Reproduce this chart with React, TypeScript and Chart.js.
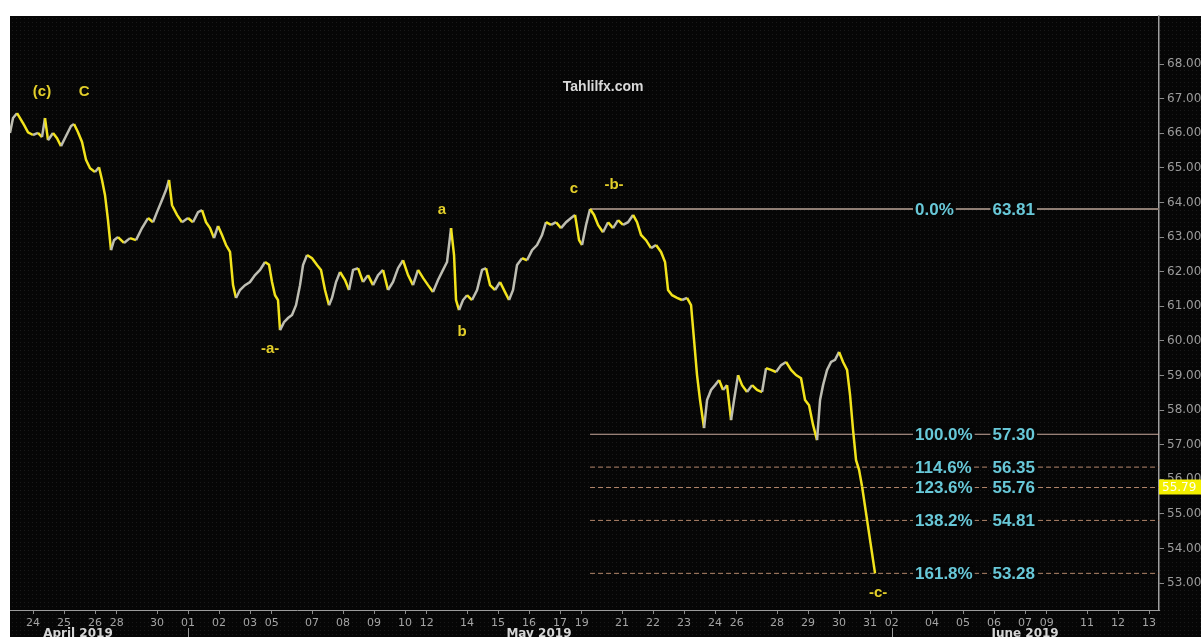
import React, { useEffect, useRef } from 'react';
import { Chart, registerables } from 'chart.js';

Chart.register(...registerables);

// ---- Data (x in trading-day units from the start of Wed 24 Apr 2019; weekends: Fri+Sun = 1 unit) ----
const priceDays = [
  -0.742, -0.645, -0.516, -0.419, -0.29, -0.161, 0.0, 0.161, 0.29, 0.387, 0.484, 0.645, 0.774, 0.903,
  1.065, 1.226, 1.323, 1.452, 1.581, 1.71, 1.839, 2.0, 2.129, 2.226, 2.323, 2.419, 2.516, 2.613, 2.742,
  2.935, 3.129, 3.323, 3.516, 3.71, 3.871, 4.0, 4.161, 4.29, 4.387, 4.484, 4.645, 4.806, 5.0, 5.161,
  5.323, 5.452, 5.581, 5.71, 5.839, 5.968, 6.097, 6.226, 6.355, 6.452, 6.548, 6.677, 6.839, 7.0, 7.161,
  7.323, 7.484, 7.613, 7.71, 7.806, 7.903, 7.968, 8.097, 8.226, 8.355, 8.484, 8.613, 8.71, 8.839, 9.0,
  9.161, 9.29, 9.419, 9.548, 9.645, 9.774, 9.903, 10.065, 10.194, 10.323, 10.484, 10.645, 10.806, 10.968,
  11.129, 11.29, 11.452, 11.613, 11.774, 11.935, 12.097, 12.258, 12.419, 12.581, 12.742, 12.903, 13.065,
  13.226, 13.355, 13.484, 13.581, 13.645, 13.742, 13.871, 14.0, 14.161, 14.323, 14.484, 14.613, 14.742,
  14.903, 15.065, 15.226, 15.355, 15.484, 15.613, 15.774, 15.935, 16.097, 16.258, 16.419, 16.548, 16.71,
  16.871, 17.032, 17.194, 17.355, 17.484, 17.613, 17.71, 17.839, 17.968, 18.097, 18.226, 18.387, 18.548,
  18.71, 18.871, 19.032, 19.194, 19.355, 19.484, 19.613, 19.774, 19.935, 20.097, 20.258, 20.387, 20.484,
  20.613, 20.774, 20.935, 21.097, 21.226, 21.323, 21.419, 21.516, 21.645, 21.742, 21.871, 22.0, 22.129,
  22.258, 22.387, 22.516, 22.613, 22.742, 22.871, 23.032, 23.194, 23.355, 23.516, 23.645, 23.806, 23.968,
  24.129, 24.29, 24.452, 24.613, 24.774, 24.903, 25.032, 25.161, 25.29, 25.387, 25.484, 25.613, 25.742,
  25.871, 26.0, 26.129, 26.258, 26.355, 26.452, 26.548, 26.645, 26.742,
];
const priceValues = [
  66.01, 66.44, 66.58, 66.44, 66.24, 66.03, 65.95, 66.01, 65.89, 66.44, 65.8, 66.01, 65.86, 65.63,
  65.92, 66.21, 66.27, 66.03, 65.75, 65.23, 64.99, 64.88, 65.02, 64.65, 64.21, 63.49, 62.62, 62.91, 63.0,
  62.83, 62.97, 62.91, 63.26, 63.55, 63.43, 63.72, 64.07, 64.36, 64.65, 63.92, 63.64, 63.43, 63.55, 63.43,
  63.72, 63.78, 63.43, 63.26, 62.97, 63.32, 63.06, 62.77, 62.57, 61.61, 61.24, 61.47, 61.61, 61.7, 61.9,
  62.05, 62.28, 62.2, 61.7, 61.32, 61.18, 60.31, 60.54, 60.66, 60.75, 61.03, 61.61, 62.19, 62.48, 62.39,
  62.19, 62.05, 61.47, 61.03, 61.24, 61.7, 61.99, 61.76, 61.47, 62.05, 62.1, 61.7, 61.9, 61.61,
  61.9, 62.05, 61.47, 61.7, 62.1, 62.33, 61.9, 61.61, 62.05, 61.82, 61.61, 61.41, 61.76,
  62.05, 62.28, 63.26, 62.48, 61.18, 60.89, 61.18, 61.32, 61.18, 61.47, 62.05, 62.1, 61.61,
  61.47, 61.7, 61.41, 61.18, 61.47, 62.19, 62.39, 62.33, 62.62, 62.77, 63.06, 63.43, 63.35,
  63.43, 63.26, 63.43, 63.55, 63.64, 62.91, 62.77, 63.35, 63.81, 63.64, 63.35, 63.14, 63.43,
  63.26, 63.49, 63.35, 63.43, 63.64, 63.43, 63.06, 62.91, 62.68, 62.77, 62.57, 62.28, 61.47,
  61.32, 61.24, 61.18, 61.24, 61.03, 60.02, 59.01, 58.29, 57.48, 58.29, 58.58, 58.72, 58.87,
  58.58, 58.72, 57.71, 58.29, 59.01, 58.72, 58.52, 58.72, 58.58, 58.52, 59.21, 59.16, 59.1,
  59.3, 59.39, 59.16, 59.01, 58.92, 58.29, 58.14, 57.57, 57.13, 58.29, 58.72, 59.16, 59.39,
  59.45, 59.68, 59.39, 59.16, 58.43, 57.42, 56.55, 56.27, 55.79,
];
const projectionDays = [26.742, 27.161];
const projectionValues = [55.79, 53.28];

const fibPercents = ['0.0%', '100.0%', '114.6%', '123.6%', '138.2%', '161.8%'];
const fibLevels = [63.81, 57.3, 56.35, 55.76, 54.81, 53.28];
const fibStartDay = 17.968;

const xTickLabels = ['24', '25', '26', '28', '30', '01', '02', '03', '05', '07', '08', '09', '10', '12', '14', '15', '16', '17', '19',
  '21', '22', '23', '24', '26', '28', '29', '30', '31', '02', '04', '05', '06', '07', '09', '11', '12', '13'];
const xTickDays = [0, 1, 2, 2.7, 4, 5, 6, 7, 7.7, 9, 10, 11, 12, 12.7, 14, 15, 16, 17, 17.7,
  19, 20, 21, 22, 22.7, 24, 25, 26, 27, 27.7, 29, 30, 31, 32, 32.7, 34, 35, 36];
const yTickValues = [53, 54, 55, 56, 57, 58, 59, 60, 61, 62, 63, 64, 65, 66, 67, 68];

const monthLabels = ['April 2019', 'May 2019', 'June 2019'];
const monthLabelDays = [1.45, 16.32, 32.0];
const monthStartDays = [5, 27.7];

const waveLabels = ['C', '(c)', 'C', 'a', '-a-', 'b', 'c', '-b-', '-c-'];
const waveDays = [-0.95, 0.29, 1.65, 13.19, 7.65, 13.84, 17.45, 18.74, 27.26];
const waveValues = [67.19, 67.19, 67.19, 63.78, 59.76, 60.25, 64.39, 64.5, 52.71];

const watermark = 'Tahlilfx.com';
const watermarkDay = 18.39;
const watermarkValue = 67.34;
const lastPrice = 55.79;

const X_MIN = -0.742;
const X_MAX = 36.32;
const Y_MIN = 52.22;
const Y_MAX = 69.39;

const YELLOW = '#f2e31c';
const UPGRAY = '#bdbdb2';
const LABEL_YELLOW = '#e3cf2a';
const CYAN = '#68c8d8';

const decorPlugin = {
  id: 'decor',
  beforeDraw(chart: any) {
    const { ctx, width, height, chartArea } = chart;
    ctx.save();
    ctx.fillStyle = '#ffffff';
    ctx.fillRect(0, 0, width, height);
    ctx.fillStyle = '#060606';
    ctx.fillRect(chartArea.left, chartArea.top, width - chartArea.left, height - chartArea.top);
    ctx.fillStyle = '#191919';
    for (let y = chartArea.top + 2; y < height; y += 4) {
      for (let x = chartArea.left + 2; x < width; x += 4) ctx.fillRect(x, y, 1, 1);
    }
    ctx.restore();
  },
  afterDatasetsDraw(chart: any) {
    const { ctx, chartArea } = chart;
    const xs = chart.scales.x;
    const ys = chart.scales.y;
    ctx.save();
    // fib labels
    ctx.font = 'bold 17px "Liberation Sans", Arial, sans-serif';
    ctx.textBaseline = 'middle';
    const pctX = xs.getPixelForValue(28.45);
    const valX = xs.getPixelForValue(32.32);
    fibLevels.forEach((lv, i) => {
      const y = ys.getPixelForValue(lv);
      const pct = fibPercents[i];
      const val = lv.toFixed(2);
      const pw = ctx.measureText(pct).width;
      const vw = ctx.measureText(val).width;
      ctx.fillStyle = '#060606';
      ctx.fillRect(pctX - 2, y - 8, pw + 4, 16);
      ctx.fillRect(valX - vw - 2, y - 8, vw + 4, 16);
      ctx.fillStyle = CYAN;
      ctx.textAlign = 'left';
      ctx.fillText(pct, pctX, y + 1);
      ctx.textAlign = 'right';
      ctx.fillText(val, valX, y + 1);
    });
    // wave labels (clipped to plot)
    ctx.beginPath();
    ctx.rect(chartArea.left, chartArea.top, chartArea.right - chartArea.left, chartArea.bottom - chartArea.top);
    ctx.clip();
    ctx.font = 'bold 15px "Liberation Sans", Arial, sans-serif';
    ctx.textAlign = 'center';
    ctx.fillStyle = LABEL_YELLOW;
    waveLabels.forEach((t, i) => {
      ctx.fillText(t, xs.getPixelForValue(waveDays[i]), ys.getPixelForValue(waveValues[i]));
    });
    ctx.font = 'bold 14px "Liberation Sans", Arial, sans-serif';
    ctx.fillStyle = '#dadada';
    ctx.fillText(watermark, xs.getPixelForValue(watermarkDay), ys.getPixelForValue(watermarkValue));
    ctx.restore();
  },
  afterDraw(chart: any) {
    const { ctx, height, width, chartArea } = chart;
    const xs = chart.scales.x;
    const ys = chart.scales.y;
    ctx.save();
    // month labels
    ctx.font = 'bold 12px "DejaVu Sans", Verdana, sans-serif';
    ctx.fillStyle = '#d6d6d6';
    ctx.textAlign = 'center';
    ctx.textBaseline = 'top';
    monthLabels.forEach((m, i) => {
      ctx.fillText(m, xs.getPixelForValue(monthLabelDays[i]), chartArea.bottom + 18);
    });
    ctx.strokeStyle = '#9a9a9a';
    ctx.lineWidth = 1;
    monthStartDays.forEach((d) => {
      const x = Math.round(xs.getPixelForValue(d)) + 0.5;
      ctx.beginPath();
      ctx.moveTo(x, chartArea.bottom + 18);
      ctx.lineTo(x, height);
      ctx.stroke();
    });
    // last price box
    const y = ys.getPixelForValue(lastPrice);
    ctx.fillStyle = '#f4f000';
    ctx.fillRect(chartArea.right, y - 7, width - chartArea.right, 15);
    ctx.font = '12px "DejaVu Sans", Verdana, sans-serif';
    ctx.fillStyle = '#fffff0';
    ctx.textAlign = 'left';
    ctx.textBaseline = 'middle';
    ctx.fillText(lastPrice.toFixed(2), chartArea.right + 3, y + 1);
    ctx.restore();
  },
};

export default function App() {
  const ref = useRef<HTMLCanvasElement | null>(null);
  useEffect(() => {
    document.body.style.margin = '0';
    document.body.style.overflow = 'hidden';
    const canvas = ref.current;
    if (!canvas) return;
    const priceData = priceDays.map((d, i) => ({ x: d, y: priceValues[i] }));
    const projData = projectionDays.map((d, i) => ({ x: d, y: projectionValues[i] }));
    const fibSets = fibLevels.map((lv, i) => ({
      label: fibPercents[i],
      data: [{ x: fibStartDay, y: lv }, { x: X_MAX, y: lv }],
      borderColor: i === 0 ? '#8f7e74' : i === 1 ? '#c8a89c' : '#b4876c',
      borderWidth: i === 0 ? 2 : 1,
      borderDash: i <= 1 ? [] : [5, 3],
      pointRadius: 0,
      tension: 0,
    }));
    const chart = new Chart(canvas, {
      type: 'line',
      data: {
        datasets: [
          {
            label: 'Price',
            data: priceData,
            borderColor: YELLOW,
            borderWidth: 2.5,
            pointRadius: 0,
            tension: 0,
            segment: {
              borderColor: (c: any) => (c.p1.parsed.y > c.p0.parsed.y ? UPGRAY : YELLOW),
            },
          },
          {
            label: 'Projection',
            data: projData,
            borderColor: YELLOW,
            borderWidth: 2.5,
            pointRadius: 0,
            tension: 0,
          },
          ...fibSets,
        ] as any,
      },
      options: {
        animation: false,
        responsive: false,
        devicePixelRatio: 1,
        layout: { padding: { left: 10, top: 16, right: 0, bottom: 0 } },
        plugins: { legend: { display: false }, tooltip: { enabled: false } },
        scales: {
          x: {
            type: 'linear',
            min: X_MIN,
            max: X_MAX,
            afterFit: (s: any) => { s.height = 27; },
            afterBuildTicks: (s: any) => { s.ticks = xTickDays.map((v) => ({ value: v })); },
            ticks: {
              autoSkip: false,
              maxRotation: 0,
              padding: 3,
              color: '#a4a4a4',
              font: { family: '"DejaVu Sans", Verdana, sans-serif', size: 11 },
              callback: (_v: any, i: number) => xTickLabels[i],
            },
            grid: { drawOnChartArea: false, tickLength: 4, color: '#8a8a8a' },
            border: { display: true, color: '#9c9c9c', width: 1 },
          },
          y: {
            type: 'linear',
            position: 'right',
            min: Y_MIN,
            max: Y_MAX,
            afterFit: (s: any) => { s.width = 42; },
            afterBuildTicks: (s: any) => { s.ticks = yTickValues.map((v) => ({ value: v })); },
            ticks: {
              padding: 3,
              color: '#9c9c9c',
              font: { family: '"DejaVu Sans", Verdana, sans-serif', size: 12 },
              callback: (v: any) => Number(v).toFixed(2),
            },
            grid: { drawOnChartArea: false, tickLength: 5, color: '#8a8a8a' },
            border: { display: true, color: '#a0a0a0', width: 1.5 },
          },
        },
      },
      plugins: [decorPlugin],
    } as any);
    return () => chart.destroy();
  }, []);
  return (
    <div style={{ width: 1201, height: 637 }}>
      <canvas ref={ref} width={1201} height={637} style={{ display: 'block' }} />
    </div>
  );
}
